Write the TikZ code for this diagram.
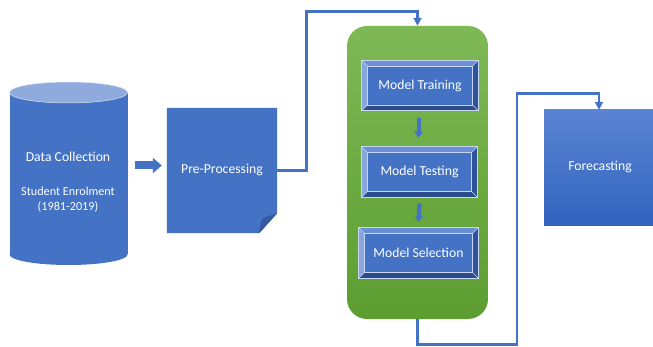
\documentclass[tikz,border=0pt]{standalone}
\usepackage{fontspec}
\setmainfont{Carlito}
\usetikzlibrary{arrows.meta}
\definecolor{obl}{HTML}{4472C4}
\definecolor{oblight}{HTML}{8FAADC}
\definecolor{obdark}{HTML}{34599F}
\definecolor{gtop}{HTML}{7EB956}
\definecolor{gbot}{HTML}{5C9D30}
\definecolor{ftop}{HTML}{5A84D2}
\definecolor{fbot}{HTML}{3263BE}
\definecolor{bvtop}{HTML}{6A8FD6}
\definecolor{bvleft}{HTML}{88A5DD}
\definecolor{bvbot}{HTML}{2C4A8C}
\definecolor{bvright}{HTML}{30529A}
\definecolor{bvline}{HTML}{C8D6F0}
\tikzset{
  lbl/.style={text=white, font=\fontsize{13.7}{15}\selectfont, inner sep=0pt},
  conn/.style={draw=obl, line width=2.8pt, -{Triangle[length=8pt,width=8pt]}},
  small/.style={draw=obl, line width=4pt, -{Triangle[length=6pt,width=8.5pt]}},
  block/.style={draw=obl, line width=8pt, -{Triangle[length=9pt,width=15pt]}},
  bevelbox/.style={minimum width=116pt, minimum height=50pt, inner sep=0pt, fill=obl, draw=bvline, line width=0.8pt},
}
\newcommand\mybevel[1]{%
  \fill[bvtop] (#1.north west) -- (#1.north east) -- ([shift={(-6pt,-6pt)}]#1.north east) -- ([shift={(6pt,-6pt)}]#1.north west) -- cycle;
  \fill[bvleft] (#1.north west) -- ([shift={(6pt,-6pt)}]#1.north west) -- ([shift={(6pt,6pt)}]#1.south west) -- (#1.south west) -- cycle;
  \fill[bvbot] (#1.south west) -- (#1.south east) -- ([shift={(-6pt,6pt)}]#1.south east) -- ([shift={(6pt,6pt)}]#1.south west) -- cycle;
  \fill[bvright] (#1.north east) -- (#1.south east) -- ([shift={(-6pt,6pt)}]#1.south east) -- ([shift={(-6pt,-6pt)}]#1.north east) -- cycle;
  \draw[bvline, line width=0.6pt] ([shift={(6pt,-6pt)}]#1.north west) rectangle ([shift={(-6pt,6pt)}]#1.south east);
  \draw[bvline, line width=0.5pt] (#1.north west) -- ([shift={(6pt,-6pt)}]#1.north west)
    (#1.north east) -- ([shift={(-6pt,-6pt)}]#1.north east)
    (#1.south west) -- ([shift={(6pt,6pt)}]#1.south west)
    (#1.south east) -- ([shift={(-6pt,6pt)}]#1.south east);
  \draw[bvline, line width=0.8pt] (#1.north west) rectangle (#1.south east);
}
\begin{document}
\begin{tikzpicture}[x=1pt, y=-1pt]
\useasboundingbox (0,0) rectangle (653,347);
\fill[white] (0,0) rectangle (653,347);

% Data collection cylinder
\fill[obl] (9.5,92.5) rectangle (127.5,254.5);
\fill[obl] (68.5,254.5) ellipse [x radius=59, y radius=10.5];
\fill[oblight] (68.5,92.5) ellipse [x radius=59, y radius=10.5];
\draw[white!80!obl, line width=0.5pt] (68.5,92.5) ellipse [x radius=59, y radius=10.5];
\node[name=dc, minimum width=118pt, minimum height=183pt, inner sep=0pt] at (68.5,173.5) {};
\node[lbl, name=dct] at (68,157) {Data Collection};
\node[lbl, name=dcs, font=\fontsize{12.2}{14}\selectfont] at (68,191) {Student Enrolment};
\node[lbl, name=dcy, font=\fontsize{12.2}{14}\selectfont] at (68,207) {(1981-2019)};

% Pre-processing document
\node[name=pp, minimum width=110pt, minimum height=125pt, inner sep=0pt] at (222,170.5) {};
\fill[obl] (pp.north west) -- (pp.north east) -- ([yshift=20pt]pp.south east) -- ([xshift=-18pt]pp.south east) -- (pp.south west) -- cycle;
\fill[obdark] ([xshift=-18pt]pp.south east) .. controls (260,226) and (261,221) .. (263,218) -- ([yshift=20pt]pp.south east) -- cycle;
\node[lbl, name=ppt] at (222,170) {Pre-Processing};

% block arrow
\draw[block] ([xshift=7.5pt,yshift=8pt]dc.east) -- ([xshift=-5pt,yshift=5pt]pp.west);

% green group
\node[name=gb, minimum width=141pt, minimum height=293pt, rounded corners=20pt, top color=gtop, bottom color=gbot, inner sep=0pt] at (417.5,172.5) {};

% bevel boxes
\node[bevelbox, name=mtr] at (420,85.5) {};
\mybevel{mtr}
\node[lbl, name=mtrt] at (420,85.5) {Model Training};
\node[bevelbox, name=mte, minimum width=115pt] at (419.5,172) {};
\mybevel{mte}
\node[lbl, name=mtet] at (419.5,172) {Model Testing};
\node[bevelbox, name=mse, minimum width=119pt] at (418.5,253) {};
\mybevel{mse}
\node[lbl, name=mset] at (418.5,253) {Model Selection};

\draw[small] ([xshift=-1.5pt,yshift=-7pt]mtr.south) -- ([xshift=-1pt,yshift=9pt]mte.north);
\draw[small] ([yshift=-6pt]mte.south) -- ([yshift=6pt]mse.north);

% Forecasting
\node[name=fc, minimum width=110pt, minimum height=116pt, inner sep=0pt, top color=ftop, bottom color=fbot] at (599,168) {};
\node[lbl, name=fct] at (600,167) {Forecasting};

% connectors
\draw[conn] (pp.east) -- ++(29,0) |- ([yshift=14pt]gb.north) -- (gb.north);
\coordinate (c1) at (517,344.5);
\draw[conn] (gb.south) |- (c1) |- ([yshift=16pt]fc.north) -- (fc.north);
\end{tikzpicture}
\end{document}
